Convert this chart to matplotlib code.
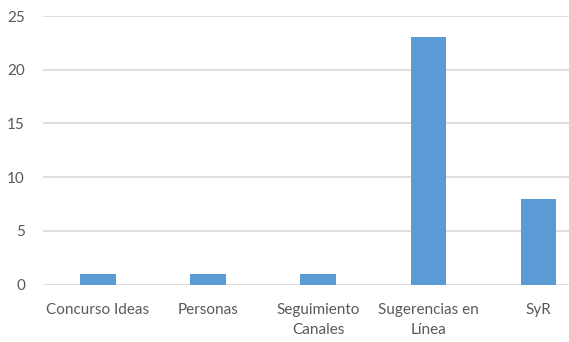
import matplotlib
matplotlib.use("Agg")
import matplotlib.pyplot as plt

categories = ["Concurso Ideas", "Personas", "Seguimiento\nCanales", "Sugerencias en\nLínea", "SyR"]
values = [1, 1, 1, 23, 8]
y_ticks = [0, 5, 10, 15, 20, 25]

plt.rcParams['font.family'] = ['Lato', 'DejaVu Sans']

fig = plt.figure(figsize=(5.69, 3.42), dpi=100)
ax = fig.add_axes([43 / 569, 1 - 284.5 / 342, 1 - 43 / 569, 268.5 / 342])

x = range(len(categories))
ax.bar(x, values, width=0.32, color="#5B9BD5", zorder=3)

ax.set_xlim(-0.5, 4.28)
ax.set_ylim(0, 25)
ax.set_yticks(y_ticks)
ax.set_xticks(list(x))
ax.set_xticklabels(categories, linespacing=1.6, va="top")
ax.grid(axis="y", color="#D9D9D9", linewidth=1.2, zorder=0)
for s in ax.spines.values():
    s.set_visible(False)
ax.tick_params(axis="both", length=0, colors="#595959", labelsize=11)
ax.tick_params(axis="x", pad=13)
ax.tick_params(axis="y", pad=13)

fig.savefig("out.png", dpi=100)
